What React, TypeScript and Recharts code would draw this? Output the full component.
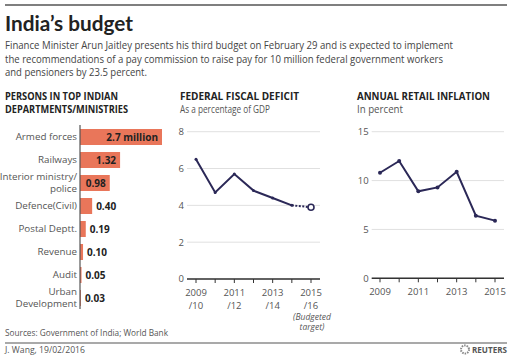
import React from "react";
import { BarChart, Bar, XAxis, YAxis, LabelList, LineChart, Line, CartesianGrid } from "recharts";

const departments = ["Armed forces", "Railways", "Interior ministry/\npolice", "Defence(Civil)", "Postal Deptt.", "Revenue", "Audit", "Urban\nDevelopment"];
const employeesMillions = [2.7, 1.32, 0.98, 0.4, 0.19, 0.1, 0.05, 0.03];
const employeeLabels = ["2.7 million", "1.32", "0.98", "0.40", "0.19", "0.10", "0.05", "0.03"];

const fiscalYears = ["2009/10", "2010/11", "2011/12", "2012/13", "2013/14", "2014/15", "2015/16"];
const fiscalDeficit = [6.5, 4.7, 5.7, 4.8, 4.4, 4.0, 3.9];
const fiscalTicks = [0, 2, 4, 6, 8];
const budgetedIndex = 6;

const inflationYears = ["2009", "2010", "2011", "2012", "2013", "2014", "2015"];
const retailInflation = [10.8, 12.0, 8.9, 9.3, 10.9, 6.4, 5.9];
const inflationTicks = [0, 5, 10, 15];

const FONT = "'Open Sans', Lato, sans-serif";
const TITLE_FONT = "Lato, 'Open Sans', sans-serif";
const LINE = "#2b2857";
const BAR = "#e9765a";
const GREY = "#555";

const barData = departments.map((name, i) => ({ name, value: employeesMillions[i], label: employeeLabels[i] }));
const fiscalData = fiscalYears.map((year, i) => ({
  year,
  actual: i < budgetedIndex ? fiscalDeficit[i] : null,
  target: i >= budgetedIndex - 1 ? fiscalDeficit[i] : null,
}));
const inflationData = inflationYears.map((year, i) => ({ year, value: retailInflation[i] }));

const DeptTick = (props: any) => {
  const { x, y, payload } = props;
  const lines = String(payload.value).split("\n");
  const step = 12;
  const start = -((lines.length - 1) * step) / 2;
  return (
    <g>
      {lines.map((l, i) => (
        <text key={i} x={x} y={y + start + i * step} dy="0.35em" textAnchor="end" fontSize={9.8} fill={GREY} fontFamily={FONT}>
          {l}
        </text>
      ))}
    </g>
  );
};

const BarValue = (props: any) => {
  const { x, y, width, height, value } = props;
  const inside = width > 25;
  return (
    <text
      x={inside ? x + width - 4 : x + width + 4}
      y={y + height / 2}
      dy="0.35em"
      textAnchor={inside ? "end" : "start"}
      fontSize={10}
      fontWeight={700}
      fill="#222"
      fontFamily={FONT}
    >
      {value}
    </text>
  );
};

const FiscalTick = (props: any) => {
  const { x, y, payload, index } = props;
  if (index % 2 !== 0) return <g />;
  const [a, b] = String(payload.value).split("/");
  return (
    <g fontFamily={FONT} fill={GREY} fontSize={9.5}>
      <text x={x} y={y + 10.5} textAnchor="middle">{a}</text>
      <text x={x} y={y + 24} textAnchor="middle">/{b}</text>
      {index === budgetedIndex && (
        <g fontStyle="italic" fontSize={8.5}>
          <text x={x + 1} y={y + 35} textAnchor="middle">(Budgeted</text>
          <text x={x + 1} y={y + 45} textAnchor="middle">target)</text>
        </g>
      )}
    </g>
  );
};

const YearTick = (props: any) => {
  const { x, y, payload, index } = props;
  if (index % 2 !== 0) return <g />;
  return (
    <text x={x} y={y + 10.5} textAnchor="middle" fontFamily={FONT} fill={GREY} fontSize={9.5}>
      {payload.value}
    </text>
  );
};

const OpenDot = (props: any) => {
  const { cx, cy, index } = props;
  if (index !== budgetedIndex || cy == null) return <g key={index} />;
  return <circle key={index} cx={cx} cy={cy} r={3} fill="#fff" stroke={LINE} strokeWidth={1.6} />;
};

export default function App() {
  return (
    <div style={{ position: "absolute", left: 0, top: 0, width: 512, height: 355, background: "#fff", overflow: "hidden" }}>
      <svg width={512} height={355} style={{ position: "absolute", left: 0, top: 0 }} fontFamily={FONT}>
        <line x1={5} x2={507} y1={5} y2={5} stroke="#555" strokeWidth={1.5} />
        <text x={5} y={31} fontSize={21} fontWeight={700} fill="#222" fontFamily={TITLE_FONT} textLength={128} lengthAdjust="spacingAndGlyphs">India’s budget</text>
        <g fontSize={10.5} fill="#444">
          <text x={5} y={49} textLength={448} lengthAdjust="spacingAndGlyphs">Finance Minister Arun Jaitley presents his third budget on February 29 and is expected to implement</text>
          <text x={5} y={62.5} textLength={438} lengthAdjust="spacingAndGlyphs">the recommendations of a pay commission to raise pay for 10 million federal government workers</text>
          <text x={5} y={75.5} textLength={142} lengthAdjust="spacingAndGlyphs">and pensioners by 23.5 percent.</text>
        </g>
        <g fontSize={10} fontWeight={700} fill="#222">
          <text x={5} y={100} textLength={113} lengthAdjust="spacingAndGlyphs">PERSONS IN TOP INDIAN</text>
          <text x={5} y={112.5} textLength={123} lengthAdjust="spacingAndGlyphs">DEPARTMENTS/MINISTRIES</text>
          <text x={180} y={100} textLength={119} lengthAdjust="spacingAndGlyphs">FEDERAL FISCAL DEFICIT</text>
          <text x={357} y={100} textLength={133} lengthAdjust="spacingAndGlyphs">ANNUAL RETAIL INFLATION</text>
        </g>
        <g fontSize={10} fill={GREY}>
          <text x={180} y={112.5} textLength={90} lengthAdjust="spacingAndGlyphs">As a percentage of GDP</text>
          <text x={357} y={112.5} textLength={46} lengthAdjust="spacingAndGlyphs">In percent</text>
        </g>
        <text x={5} y={336} fontSize={9} fill={GREY} textLength={163} lengthAdjust="spacingAndGlyphs">Sources: Government of India; World Bank</text>
        <line x1={5} x2={507} y1={343} y2={343} stroke="#555" strokeWidth={1.2} />
        <text x={5} y={353} fontSize={9} fill={GREY} textLength={80} lengthAdjust="spacingAndGlyphs">J. Wang, 19/02/2016</text>
        <circle cx={465} cy={349.5} r={4} fill="none" stroke="#888" strokeWidth={2} strokeDasharray="1.5 1" />
        <text x={472} y={353} fontSize={8.5} fontWeight={700} fill="#555" textLength={35} lengthAdjust="spacingAndGlyphs">REUTERS</text>
      </svg>

      <div style={{ position: "absolute", left: 0, top: 120 }}>
        <BarChart layout="vertical" width={172} height={192} data={barData} margin={{ top: 5, right: 10, bottom: 3, left: 0 }}>
          <XAxis type="number" domain={[0, 2.7]} hide />
          <YAxis
            type="category"
            dataKey="name"
            width={80}
            interval={0}
            axisLine={{ stroke: "#555", strokeWidth: 1.2 }}
            tickLine={false}
            tickSize={0}
            tickMargin={3}
            tick={<DeptTick />}
          />
          <Bar dataKey="value" fill={BAR} barSize={16} isAnimationActive={false}>
            <LabelList dataKey="label" content={<BarValue />} />
          </Bar>
        </BarChart>
      </div>

      <div style={{ position: "absolute", left: 160, top: 120 }}>
        <LineChart width={180} height={215} data={fiscalData} margin={{ top: 11.7, right: 20, bottom: 0, left: 0 }}>
          <CartesianGrid vertical={false} stroke="#e0e0e0" />
          <XAxis
            dataKey="year"
            interval={0}
            height={56}
            padding={{ left: 9, right: 9 }}
            axisLine={{ stroke: "#333", strokeWidth: 1.5 }}
            tickLine={{ stroke: "#333" }}
            tickSize={4}
            tickMargin={2}
            tick={<FiscalTick />}
          />
          <YAxis
            domain={[0, 8]}
            ticks={fiscalTicks}
            width={27}
            axisLine={false}
            tickLine={false}
            tickSize={0}
            tickMargin={3}
            tick={{ fontSize: 9.5, fill: GREY, fontFamily: FONT }}
          />
          <Line dataKey="actual" stroke={LINE} strokeWidth={2} dot={{ r: 1.5, fill: LINE, stroke: "none" }} isAnimationActive={false} />
          <Line dataKey="target" stroke={LINE} strokeWidth={2} strokeDasharray="2 1.5" dot={<OpenDot />} isAnimationActive={false} />
        </LineChart>
      </div>

      <div style={{ position: "absolute", left: 340, top: 120 }}>
        <LineChart width={172} height={215} data={inflationData} margin={{ top: 11.7, right: 8, bottom: 0, left: 0 }}>
          <CartesianGrid vertical={false} stroke="#e0e0e0" />
          <XAxis
            dataKey="year"
            interval={0}
            height={56.7}
            padding={{ left: 8.3, right: 9 }}
            axisLine={{ stroke: "#333", strokeWidth: 1.5 }}
            tickLine={{ stroke: "#333" }}
            tickSize={4}
            tickMargin={2}
            tick={<YearTick />}
          />
          <YAxis
            domain={[0, 15]}
            ticks={inflationTicks}
            width={31.7}
            axisLine={false}
            tickLine={false}
            tickSize={0}
            tickMargin={3}
            tick={{ fontSize: 9.5, fill: GREY, fontFamily: FONT }}
          />
          <Line dataKey="value" stroke={LINE} strokeWidth={2} dot={{ r: 2, fill: LINE, stroke: "none" }} isAnimationActive={false} />
        </LineChart>
      </div>
    </div>
  );
}
